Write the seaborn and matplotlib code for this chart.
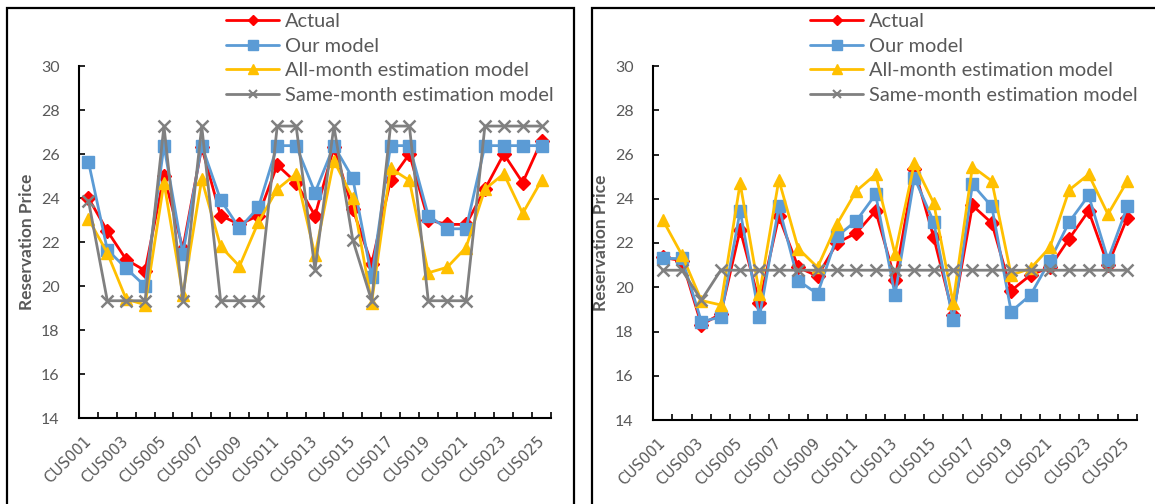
import numpy as np
import pandas as pd
import matplotlib
matplotlib.use("Agg")
import matplotlib.pyplot as plt
from matplotlib.lines import Line2D
from matplotlib.patches import Rectangle
import seaborn as sns

customers = [f"CUS{i:03d}" for i in range(1, 26)]
series_names = ["Actual", "Our model", "All-month estimation model", "Same-month estimation model"]

# Left panel
actual_left = [24.0, 22.5, 21.2, 20.7, 25.0, 21.7, 26.3, 23.2, 22.8, 23.2, 25.5, 24.7, 23.2,
               26.3, 23.5, 21.0, 24.8, 26.0, 23.0, 22.8, 22.8, 24.4, 26.0, 24.7, 26.6]
ours_left = [25.65, 21.65, 20.8, 20.0, 26.38, 21.45, 26.38, 23.92, 22.62, 23.57, 26.38, 26.38, 24.25,
             26.38, 24.9, 20.4, 26.38, 26.38, 23.2, 22.6, 22.6, 26.38, 26.38, 26.38, 26.38]
allmonth_left = [23.05, 21.5, 19.4, 19.15, 24.7, 19.6, 24.85, 21.8, 20.9, 22.9, 24.4, 25.1, 21.4,
                 25.7, 24.0, 19.25, 25.35, 24.8, 20.6, 20.85, 21.75, 24.4, 25.1, 23.3, 24.8]
samemonth_left = [23.88, 19.33, 19.33, 19.33, 27.27, 19.33, 27.27, 19.33, 19.33, 19.33, 27.27, 27.27, 20.75,
                  27.27, 22.1, 19.33, 27.27, 27.27, 19.33, 19.33, 19.33, 27.27, 27.27, 27.27, 27.27]

# Right panel
actual_right = [21.35, 21.2, 18.3, 18.8, 22.6, 19.3, 23.2, 20.9, 20.5, 22.0, 22.45, 23.45, 20.35,
                25.35, 22.25, 18.75, 23.7, 22.9, 19.85, 20.55, 20.9, 22.2, 23.45, 21.0, 23.15]
ours_right = [21.3, 21.3, 18.45, 18.65, 23.45, 18.65, 23.65, 20.3, 19.7, 22.3, 23.0, 24.2, 19.65,
              24.95, 22.95, 18.5, 24.65, 23.65, 18.9, 19.65, 21.2, 22.95, 24.15, 21.25, 23.65]
allmonth_right = [23.05, 21.45, 19.4, 19.2, 24.7, 19.7, 24.85, 21.75, 20.9, 22.85, 24.35, 25.1, 21.5,
                  25.6, 23.8, 19.3, 25.45, 24.8, 20.55, 20.85, 21.8, 24.4, 25.1, 23.3, 24.8]
samemonth_right = [20.77, 20.77, 19.42, 20.77, 20.77, 20.77, 20.77, 20.77, 20.77, 20.77, 20.77, 20.77, 20.77,
                   20.77, 20.77, 20.77, 20.77, 20.77, 20.77, 20.77, 20.77, 20.77, 20.77, 20.77, 20.77]

y_ticks = [14, 16, 18, 20, 22, 24, 26, 28, 30]

colors = {"Actual": "#FF0000", "Our model": "#5B9BD5",
          "All-month estimation model": "#FFC000", "Same-month estimation model": "#808080"}
markers = {"Actual": "D", "Our model": "s",
           "All-month estimation model": "^", "Same-month estimation model": "x"}
msizes = {"Actual": 7, "Our model": 8.5,
          "All-month estimation model": 9, "Same-month estimation model": 8}

sns.set_theme(style="white")
plt.rcParams["font.family"] = ["Lato", "DejaVu Sans"]
TXT = "#595959"

W, H = 1155, 504
fig = plt.figure(figsize=(W / 100, H / 100), dpi=100)


def draw_panel(ax, values):
    pos = np.arange(len(customers))
    for name, vals in zip(series_names, values):
        df = pd.DataFrame({"pos": pos, "price": vals})
        sns.lineplot(data=df, x="pos", y="price", color=colors[name], marker=markers[name],
                     markersize=msizes[name], markeredgecolor=colors[name],
                     markerfacecolor=colors[name],
                     markeredgewidth=1.8 if name.startswith("Same") else 1.0,
                     linewidth=2, estimator=None, sort=False, legend=False, ax=ax)

    ax.set_xlim(-0.5, len(customers) - 0.5)
    ax.set_ylim(14, 30)
    ax.set_yticks(y_ticks)
    ax.set_yticklabels([str(v) for v in y_ticks])
    ax.set_xticks(np.arange(0, len(customers), 2))
    ax.set_xticklabels(customers[::2], rotation=45, ha="right", va="center",
                       rotation_mode="anchor", family="DejaVu Sans", fontsize=10.8, color=TXT)
    ax.set_xticks(np.arange(-0.5, len(customers), 1), minor=True)
    ax.tick_params(axis="x", which="major", length=0, pad=15)
    ax.tick_params(axis="x", which="minor", direction="in", length=4, width=1.2, color="black", bottom=True)
    ax.tick_params(axis="y", which="major", direction="in", length=4, width=1.2, color="black",
                   pad=14, labelsize=11.5, labelcolor=TXT, left=True)
    ax.set_xlabel("")
    for side in ("top", "right"):
        ax.spines[side].set_visible(False)
    for side in ("left", "bottom"):
        ax.spines[side].set_color("black")
        ax.spines[side].set_linewidth(1.5)
    ax.set_facecolor("none")
    ax.set_ylabel("Reservation Price", fontsize=12.5, fontweight="bold", color=TXT, labelpad=4)


def add_legend(ax, x_px):
    handles = [Line2D([], [], color=colors[n], marker=markers[n], linewidth=2,
                      markersize=msizes[n] * 0.8, markeredgecolor=colors[n],
                      markeredgewidth=1.5 if n.startswith("Same") else 1.0)
               for n in series_names]
    leg = ax.legend(handles, series_names, loc="upper left",
                    bbox_to_anchor=(x_px / W, 1 - 13 / H), bbox_transform=fig.transFigure,
                    frameon=False, fontsize=14.4, handlelength=2.65, handletextpad=0.3,
                    labelspacing=0.38, borderpad=0, borderaxespad=0)
    for t in leg.get_texts():
        t.set_color(TXT)


ax_left = fig.add_axes([79 / W, 1 - 418 / H, 472 / W, 352 / H])
ax_right = fig.add_axes([653 / W, 1 - 420 / H, 484 / W, 354 / H])

draw_panel(ax_left, [actual_left, ours_left, allmonth_left, samemonth_left])
draw_panel(ax_right, [actual_right, ours_right, allmonth_right, samemonth_right])
add_legend(ax_left, 226)
add_legend(ax_right, 810)

# Chart frames around each panel
fig.add_artist(Rectangle((7 / W, -0.05), (574 - 7) / W, 1.05 - 8 / H, transform=fig.transFigure,
                         fill=False, edgecolor="black", linewidth=1.6, clip_on=False))
fig.add_artist(Rectangle((592 / W, -0.05), 0.6, 1.05 - 8 / H, transform=fig.transFigure,
                         fill=False, edgecolor="black", linewidth=1.6, clip_on=False))

fig.savefig("out.png", dpi=100, facecolor="white")
